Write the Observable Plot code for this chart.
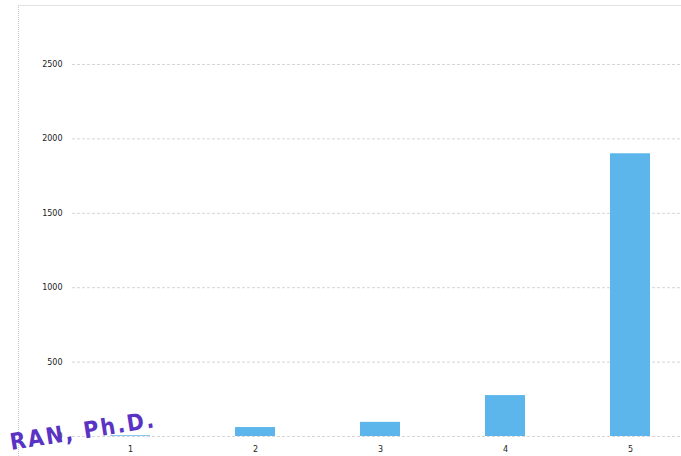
<!DOCTYPE html>
<html>
<head>
<meta charset="utf-8">
<script src="https://cdn.jsdelivr.net/npm/d3@7"></script>
<script src="https://cdn.jsdelivr.net/npm/@observablehq/plot@0.6"></script>
<style>
  html, body { margin: 0; padding: 0; background: #fff; overflow: hidden; }
  #wrap { position: relative; width: 681px; height: 456px; }
  #frame { position: absolute; left: 18px; top: 5px; right: 0; bottom: 0;
           border-left: 1px dotted #c8c8c8; border-top: 1px solid #e2e2e2; pointer-events: none; }
  #stamp { position: absolute; left: 12px; top: 431px; font-family: "DejaVu Sans Condensed", "DejaVu Sans", sans-serif;
           font-weight: bold; font-size: 23px; line-height: 23px; color: #5a33c4; transform: rotate(-9deg);
           transform-origin: left bottom; white-space: nowrap; letter-spacing: 2px; }
</style>
</head>
<body>
<div id="wrap">
  <div id="chart"></div>
  <div id="frame"></div>
  <div id="stamp">RAN, Ph.D.</div>
</div>
<script>
const categories = ["1", "2", "3", "4", "5"];
const values = [5, 60, 95, 275, 1900];
const yTicks = [0, 500, 1000, 1500, 2000, 2500];

const data = categories.map((c, i) => ({category: c, value: values[i]}));

const chart = Plot.plot({
  width: 681,
  height: 456,
  marginLeft: 72,
  marginRight: 0,
  marginTop: 5,
  marginBottom: 20,
  style: {fontFamily: "'DejaVu Sans', sans-serif", background: "transparent"},
  x: {domain: categories, range: [67, 692], paddingInner: 0.68, paddingOuter: 0.34, label: null},
  y: {domain: [0, 2500], range: [436, 64], label: null},
  marks: [
    Plot.ruleY(yTicks, {stroke: "#d6d6d6", strokeDasharray: "3,2", strokeWidth: 1}),
    Plot.barY(data, {x: "category", y: "value", fill: "#5cb6ec"}),
    Plot.axisY({ticks: yTicks, tickFormat: d => String(d), tickSize: 0, tickPadding: 10, fontSize: 8, fill: "#222", label: null}),
    Plot.axisX({tickSize: 0, tickPadding: 10, fontSize: 8, fill: "#222", label: null})
  ]
});
document.getElementById("chart").appendChild(chart);
</script>
</body>
</html>
